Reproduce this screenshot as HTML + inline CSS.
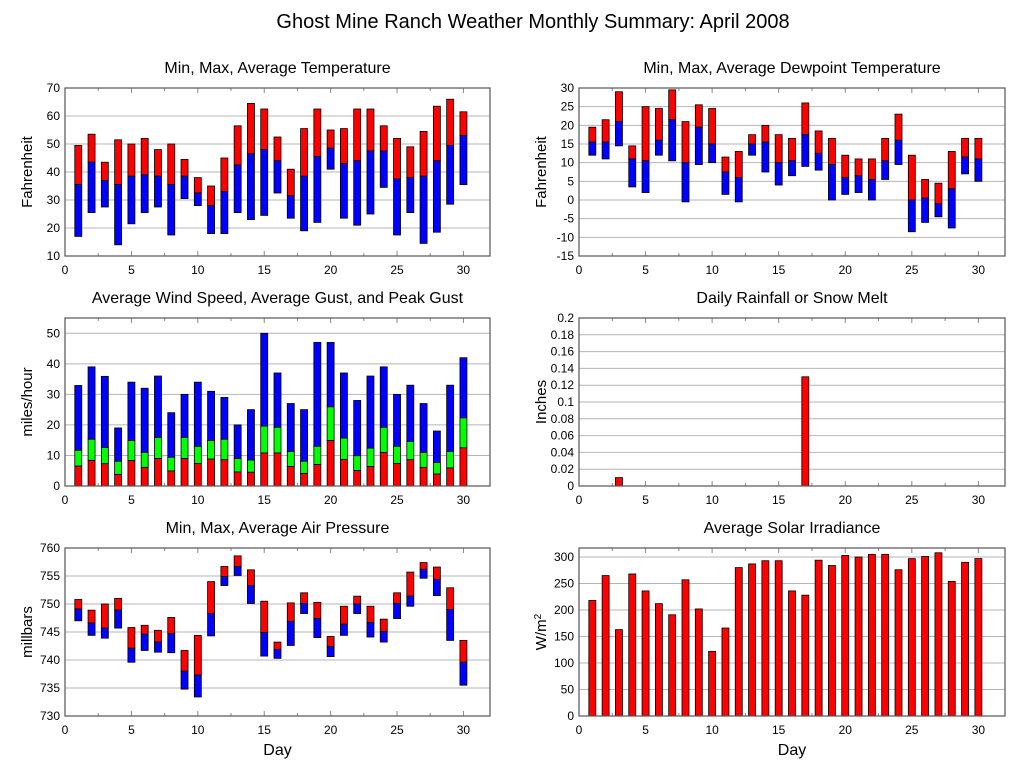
<!DOCTYPE html>
<html><head><meta charset="utf-8"><style>
body{margin:0;background:#fff;}
svg{display:block;font-family:"Liberation Sans",sans-serif;}
</style></head><body>
<svg id="c" width="1027" height="772" viewBox="0 0 1027 772">
<text x="533" y="28" text-anchor="middle" font-size="20">Ghost Mine Ranch Weather Monthly Summary: April 2008</text>
</svg>
<script>
const days = [1,2,3,4,5,6,7,8,9,10,11,12,13,14,15,16,17,18,19,20,21,22,23,24,25,26,27,28,29,30];
const tempMax = [49.5,53.5,43.5,51.5,50,52,48,50,44.5,38,35,45,56.5,64.5,62.5,52.5,41,55.5,62.5,55,55.5,62.5,62.5,56.5,52,49,54.5,63.5,66,61.5];
const tempAvg = [35.5,43.5,37,35.5,38.5,39,38.5,35.5,38.5,32.5,28,33,42.5,46.5,48,44,31.5,38.5,45.5,48.5,43,44,47.5,47.5,37.5,38,38.5,44,49.5,53];
const tempMin = [17,25.5,27.5,14,21.5,25.5,27.5,17.5,30.5,28,18,18,25.5,23,24.5,32.5,23.5,19,22,41,23.5,21,25,34.5,17.5,25.5,14.5,18.5,28.5,35.5];
const dewMax = [19.5,21.5,29,14.5,25,24.5,29.5,21,25.5,24.5,11.5,13,17.5,20,17.5,16.5,26,18.5,16.5,12,11,11,16.5,23,12,5.5,4.5,13,16.5,16.5];
const dewAvg = [15.5,15.5,21,11,10.5,16,21.5,10,19.5,15,7.5,6,15,15.5,10,10.5,17.5,12.5,9.5,6,6.5,5.5,10.5,16,0,0.5,-1,3,11.5,11];
const dewMin = [12,11,14.5,3.5,2,12,10.5,-0.5,9.5,10,1.5,-0.5,12,7.5,4,6.5,9,8,0,1.5,2,0,5.5,9.5,-8.5,-6,-4.5,-7.5,7,5];
const windPeak = [32.9,39,35.9,19,34,32,36,24,30,34,31,29,20,25,50,37,27,25,47,47,37,28,36,39,30,33,27,18,33,42];
const windGust = [11.7,15.3,12.6,8.1,14.9,11,15.9,9.4,15.9,13,14.9,15.3,9,8.5,19.6,19.2,11.3,8.1,13,25.9,15.7,9.9,12.4,19.2,13,14.6,11,7.7,11.3,22.3];
const windAvg = [6.5,8.4,7.3,3.8,8.3,6.1,9,4.9,9,7.4,8.8,8.6,4.6,4.5,10.8,10.8,6.4,4.1,7,14.9,8.7,5.1,6.4,11,7.4,8.6,6.1,3.9,5.9,12.5];
const rain = [0,0,0.01,0,0,0,0,0,0,0,0,0,0,0,0,0,0.13,0,0,0,0,0,0,0,0,0,0,0,0,0];
const presMax = [750.8,748.9,750,751,745.8,746.2,745.3,747.6,741.7,744.4,754,756.7,758.6,756.1,750.5,743.2,750.2,752,750.3,744.2,749.6,751.4,749.6,747.3,752,755.7,757.4,756.6,752.9,743.5];
const presAvg = [749.1,746.6,745.7,748.9,742.1,744.6,743.2,744.7,738,737.3,748.3,754.9,756.7,753.3,744.9,741.9,746.9,750.1,747.4,742.4,746.4,750,746.7,745.1,750.1,751.4,756.2,754.4,749,739.6];
const presMin = [747,744.4,743.9,745.7,739.6,741.7,741.4,741.3,734.8,733.4,744.3,753.3,755.1,750.1,740.7,740.3,742.6,748.3,744,740.6,744.4,748.3,744.1,743.2,747.4,749.6,754.6,751.5,743.5,735.5];
const solar = [218,265,163,268,236,212,191,257,202,122,166,280,287,293,293,236,228,294,284,303,300,305,305,276,297,301,308,254,290,297];
const xTicks = [0,5,10,15,20,25,30];

const NS = "http://www.w3.org/2000/svg";
const svg = document.getElementById('c');
function mk(tag, attrs, parent){const e=document.createElementNS(NS,tag);for(const k in attrs)e.setAttribute(k,attrs[k]);(parent||svg).appendChild(e);return e;}

function panel(o){
  const g = mk('g',{});
  
  
  const L=o.x0,R=o.x1,T=o.y0,B=o.y1;
  const xs = d => L + (d/32)*(R-L);
  const ys = v => B - (v-o.ymin)/(o.ymax-o.ymin)*(B-T);
  // gridlines & y ticks
  for(const t of o.yTicks){
    const y=ys(t);
    if(y>T+0.5 && y<B-0.5){
      const gl=mk('line',{x1:L,x2:R,y1:y,y2:y,stroke:'#b4b4b4','stroke-width':1},g);
      
      
    }
    const tl=mk('text',{x:L-5,y:y+4,'text-anchor':'end','font-size':12},g);
    
    
    tl.textContent = o.fmt?o.fmt(t):t;
  }
  // x ticks
  for(let d=0; d<=32; d+=2.5){
    const x=xs(d), len=(d%5===0)?5:3;
    mk('line',{x1:x,x2:x,y1:B,y2:B-len,stroke:'#888'},g);
    mk('line',{x1:x,x2:x,y1:T,y2:T+len,stroke:'#888'},g);
  }
  for(const t of xTicks){
    const tl=mk('text',{x:xs(t),y:B+18,'text-anchor':'middle','font-size':12},g);
    
    
    tl.textContent=t;
  }
  // bars
  for(const s of o.series){
    days.forEach((d,i)=>{
      const lo = s.lo?s.lo[i]:o.ymin, hi = s.hi[i];
      if(hi-lo<=0) return;
      const r=mk('rect',{x:xs(d)-3.5,y:ys(hi),width:7,height:ys(lo)-ys(hi),fill:s.color,stroke:'#000','stroke-width':0.8},g);
      
      
    });
  }
  const fr=mk('rect',{x:L,y:T,width:R-L,height:B-T,fill:'none',stroke:'#555','stroke-width':1.2},g);
  
  
  const ti=mk('text',{x:(L+R)/2,y:T-15,'text-anchor':'middle','font-size':16},g);
  
  
  ti.textContent=o.title;
  const yl=mk('text',{x:0,y:0,'text-anchor':'middle','font-size':15,transform:`translate(${o.x0-33},${(T+B)/2}) rotate(-90)`},g);
  
  
  if(o.ylabelHTML){yl.innerHTML=o.ylabelHTML;} else yl.textContent=o.ylabel;
  if(o.xlabel){
    const xl=mk('text',{x:(L+R)/2,y:B+39,'text-anchor':'middle','font-size':16},g);
    
    
    xl.textContent='Day';
  }
}
const LX=[65,490], RX=[579,1005];
panel({name:'temperature-panel',x0:LX[0],x1:LX[1],y0:88,y1:256,ymin:10,ymax:70,yTicks:[10,20,30,40,50,60,70],title:'Min, Max, Average Temperature',ylabel:'Fahrenheit',
  series:[{name:'temp-max',color:'#ff0000',lo:tempAvg,hi:tempMax},{name:'temp-min',color:'#0000ff',lo:tempMin,hi:tempAvg}]});
panel({name:'dewpoint-panel',x0:RX[0],x1:RX[1],y0:88,y1:256,ymin:-15,ymax:30,yTicks:[-15,-10,-5,0,5,10,15,20,25,30],title:'Min, Max, Average Dewpoint Temperature',ylabel:'Fahrenheit',
  series:[{name:'dew-max',color:'#ff0000',lo:dewAvg,hi:dewMax},{name:'dew-min',color:'#0000ff',lo:dewMin,hi:dewAvg}]});
panel({name:'wind-panel',x0:LX[0],x1:LX[1],y0:318,y1:486,ymin:0,ymax:55,yTicks:[0,10,20,30,40,50],title:'Average Wind Speed, Average Gust, and Peak Gust',ylabel:'miles/hour',
  series:[{name:'wind-peak',color:'#0000ff',lo:windGust,hi:windPeak},{name:'wind-gust',color:'#00ff00',lo:windAvg,hi:windGust},{name:'wind-avg',color:'#ff0000',hi:windAvg}]});
panel({name:'rain-panel',x0:RX[0],x1:RX[1],y0:318,y1:486,ymin:0,ymax:0.2,yTicks:[0,0.02,0.04,0.06,0.08,0.1,0.12,0.14,0.16,0.18,0.2],fmt:t=>(+t.toFixed(2)).toString(),title:'Daily Rainfall or Snow Melt',ylabel:'Inches',
  series:[{name:'rain',color:'#ff0000',hi:rain}]});
panel({name:'pressure-panel',x0:LX[0],x1:LX[1],y0:548,y1:716,ymin:730,ymax:760,yTicks:[730,735,740,745,750,755,760],title:'Min, Max, Average Air Pressure',ylabel:'millbars',xlabel:true,
  series:[{name:'pres-max',color:'#ff0000',lo:presAvg,hi:presMax},{name:'pres-min',color:'#0000ff',lo:presMin,hi:presAvg}]});
panel({name:'solar-panel',x0:RX[0],x1:RX[1],y0:548,y1:716,ymin:0,ymax:317,yTicks:[0,50,100,150,200,250,300],title:'Average Solar Irradiance',ylabelHTML:'W/m<tspan baseline-shift="super" font-size="10">2</tspan>',xlabel:true,
  series:[{name:'solar',color:'#ff0000',hi:solar}]});
</script>
</body></html>
